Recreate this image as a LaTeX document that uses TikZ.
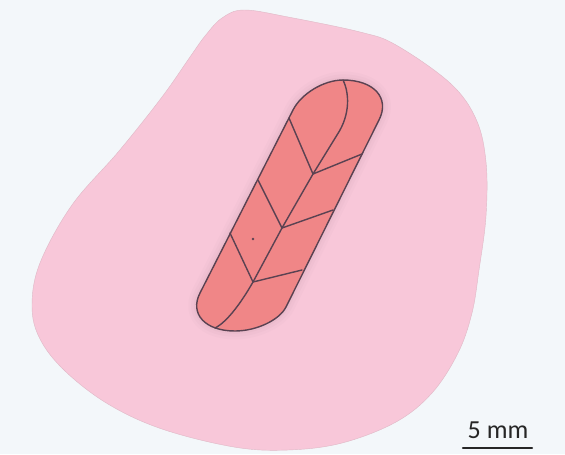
\documentclass[tikz,border=0pt]{standalone}
\usepackage{fontspec}
\setsansfont{Carlito}
\definecolor{paper}{RGB}{243,247,250}
\definecolor{tissue}{RGB}{248,199,217}
\definecolor{implant}{RGB}{240,134,135}
\definecolor{seam}{RGB}{90,66,82}
\newcommand{\implantoutline}{(L1) -- (L2) .. controls (301.4,93.5) and (323.9,80) .. (T)
	.. controls (374,80) and (390.2,98) .. (R1) -- (R2)
	.. controls (279.3,320.2) and (256.3,331) .. (B)
	.. controls (205.1,331) and (189.3,313.9) .. (L1) -- cycle}
\begin{document}
\begin{tikzpicture}[x=0.25mm, y=-0.25mm, line join=round, line cap=round,
		vein/.style={draw=seam, line width=1pt}]
	\fill[paper] (0,0) rectangle (565,454);
	\useasboundingbox (0,0) rectangle (565,454);
	% tissue patch
	\fill[tissue, draw=tissue!80!gray, line width=0.3pt] plot[smooth cycle, tension=0.6] coordinates {
		(205,36) (222,18) (244,10) (288,17) (360,32) (396,45) (450,83) (476,119) (486,162)
		(486,216) (479,270) (472,313) (458,353) (432,393) (396,422) (342,443) (288,450)
		(234,447) (162,429) (108,404) (65,371) (40,339) (32,306) (40,263) (72,205)
		(119,151) (162,97) (190,57)};
	% implant outline
	\coordinate (L1) at (200,293);
	\coordinate (L2) at (293,110);
	\coordinate (T) at (343,80);
	\coordinate (R1) at (379,120);
	\coordinate (R2) at (286,307);
	\coordinate (B) at (235,331);
	% soft rim round the implant
	\foreach \w/\o in {12/0.03, 8/0.04, 4/0.05}
		\draw[line width=\w pt, draw=tissue!60!black, opacity=\o] \implantoutline;
	\fill[implant] \implantoutline;
	% midrib and side veins
	\coordinate (J1) at (313,174);
	\coordinate (J2) at (282,228);
	\coordinate (J3) at (253,282);
	\coordinate (mb) at (215,328);
	\coordinate (a1) at (289,118);
	\coordinate (a2) at (258,180);
	\coordinate (a3) at (230,233);
	\coordinate (b1) at (362,154);
	\coordinate (b2) at (333,210);
	\coordinate (b3) at (302,270);
	\draw[vein] (T) .. controls (349,92) and (351,114) .. (337,135) -- (J1) -- (J2) -- (J3)
		.. controls (241,303) and (227,322) .. (mb);
	\foreach \j/\a/\b in {J1/a1/b1, J2/a2/b2, J3/a3/b3}
		\draw[vein] (\a) -- (\j) -- (\b);
	\draw[vein] \implantoutline;
	\fill[seam] (253,239) circle (1.3);
	% scale bar
	\coordinate (sb1) at (463,448);
	\coordinate (sb2) at (532,448);
	\draw[line width=0.6mm, black!85] (sb1) -- (sb2);
	\node[font=\sffamily\fontsize{18.5}{18.5}\selectfont, text=black!85, anchor=base, inner sep=0pt] (sblabel) at (498,438) {5 mm};
\end{tikzpicture}
\end{document}
